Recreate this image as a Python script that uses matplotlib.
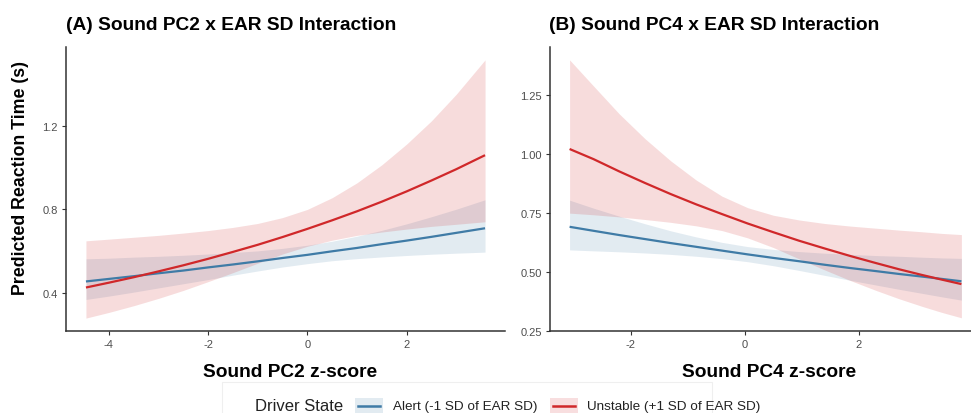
import numpy as np
import matplotlib
matplotlib.use("Agg")
import matplotlib.pyplot as plt
from matplotlib.patches import Rectangle
from matplotlib.lines import Line2D

plt.rcParams["font.family"] = ["Liberation Sans", "DejaVu Sans"]
plt.rcParams["axes.unicode_minus"] = False

# predicted RT (s) with 95% CI, Sound PC2 model
pc2_x = [-4.46, -4, -3.5, -3, -2.5, -2, -1.5, -1, -0.5, 0, 0.5, 1, 1.5, 2, 2.5, 3, 3.58]
pc2_alert = [0.456, 0.468, 0.481, 0.495, 0.508, 0.523, 0.537, 0.552, 0.568,
             0.583, 0.600, 0.616, 0.634, 0.651, 0.669, 0.688, 0.710]
pc2_alert_lo = [0.370, 0.386, 0.405, 0.425, 0.445, 0.465, 0.486, 0.506, 0.525,
                0.541, 0.555, 0.565, 0.573, 0.580, 0.586, 0.591, 0.596]
pc2_alert_hi = [0.564, 0.567, 0.572, 0.576, 0.581, 0.587, 0.594, 0.602, 0.614,
                0.629, 0.648, 0.672, 0.700, 0.731, 0.765, 0.801, 0.846]
pc2_unst = [0.427, 0.450, 0.476, 0.504, 0.533, 0.564, 0.597, 0.631, 0.668,
            0.707, 0.748, 0.791, 0.837, 0.886, 0.938, 0.992, 1.059]
pc2_unst_lo = [0.281, 0.308, 0.340, 0.375, 0.413, 0.455, 0.498, 0.543, 0.587,
               0.624, 0.653, 0.676, 0.692, 0.706, 0.719, 0.729, 0.741]
pc2_unst_hi = [0.650, 0.658, 0.667, 0.676, 0.687, 0.699, 0.714, 0.733, 0.761,
               0.800, 0.856, 0.927, 1.013, 1.112, 1.223, 1.350, 1.514]

# predicted RT (s) with 95% CI, Sound PC4 model
pc4_x = [-3.07, -2.65, -2.2, -1.75, -1.3, -0.85, -0.4, 0.05, 0.5, 0.95,
         1.4, 1.85, 2.3, 2.7, 3.1, 3.45, 3.795]
pc4_alert = [0.692, 0.675, 0.657, 0.640, 0.623, 0.607, 0.591, 0.575, 0.560,
             0.546, 0.531, 0.517, 0.504, 0.492, 0.481, 0.471, 0.461]
pc4_alert_lo = [0.594, 0.590, 0.586, 0.581, 0.575, 0.567, 0.557, 0.544, 0.527,
                0.507, 0.486, 0.465, 0.445, 0.427, 0.410, 0.395, 0.381]
pc4_alert_hi = [0.805, 0.771, 0.737, 0.705, 0.675, 0.649, 0.626, 0.608, 0.596,
                0.587, 0.580, 0.575, 0.570, 0.567, 0.563, 0.560, 0.558]
pc4_unst = [1.022, 0.979, 0.927, 0.878, 0.831, 0.787, 0.746, 0.706, 0.669,
            0.633, 0.600, 0.568, 0.538, 0.512, 0.488, 0.468, 0.449]
pc4_unst_lo = [0.750, 0.743, 0.734, 0.723, 0.711, 0.696, 0.676, 0.645, 0.604,
               0.556, 0.509, 0.464, 0.422, 0.387, 0.355, 0.329, 0.306]
pc4_unst_hi = [1.400, 1.289, 1.171, 1.066, 0.972, 0.890, 0.822, 0.773, 0.741,
               0.721, 0.706, 0.695, 0.686, 0.678, 0.671, 0.664, 0.659]

legend_title = "Driver State"
labels = ["Alert (-1 SD of EAR SD)", "Unstable (+1 SD of EAR SD)"]
blue, red = "#3F7BA6", "#D0282A"


def expand(lo, hi, frac=0.05):
    pad = (hi - lo) * frac
    return lo - pad, hi + pad


def draw_panel(ax, x, a, a_lo, a_hi, u, u_lo, u_hi, xticks, yticks, yfmt):
    ax.fill_between(x, a_lo, a_hi, color=blue, alpha=0.15, lw=0)
    ax.fill_between(x, u_lo, u_hi, color=red, alpha=0.16, lw=0)
    ax.plot(x, a, color=blue, lw=1.6, solid_capstyle="butt")
    ax.plot(x, u, color=red, lw=1.6, solid_capstyle="butt")
    ax.set_xlim(*expand(min(x), max(x)))
    ax.set_ylim(*expand(min(a_lo + u_lo), max(a_hi + u_hi)))
    ax.set_xticks(xticks)
    ax.set_yticks(yticks)
    ax.set_yticklabels([yfmt.format(v) for v in yticks])
    for s in ["top", "right"]:
        ax.spines[s].set_visible(False)
    for s in ["left", "bottom"]:
        ax.spines[s].set_color("#333333")
        ax.spines[s].set_linewidth(1.1)
    ax.tick_params(length=3, width=0.8, color="#333333",
                   labelsize=8, labelcolor="#4D4D4D", pad=3)


fig = plt.figure(figsize=(9.71, 4.14), dpi=100)
axA = fig.add_axes([66 / 971, 82 / 414, 439 / 971, 284 / 414])
axB = fig.add_axes([550 / 971, 82 / 414, 431 / 971, 284 / 414])

draw_panel(axA, pc2_x, pc2_alert, pc2_alert_lo, pc2_alert_hi,
           pc2_unst, pc2_unst_lo, pc2_unst_hi,
           [-4, -2, 0, 2], [0.4, 0.8, 1.2], "{:.1f}")
draw_panel(axB, pc4_x, pc4_alert, pc4_alert_lo, pc4_alert_hi,
           pc4_unst, pc4_unst_lo, pc4_unst_hi,
           [-2, 0, 2], [0.25, 0.5, 0.75, 1.0, 1.25], "{:.2f}")

# titles and axis labels
fig.text(66 / 971, 1 - 25 / 414, "(A) Sound PC2 x EAR SD Interaction",
         fontsize=13.8, fontweight="bold", va="center", ha="left")
fig.text(549 / 971, 1 - 25 / 414, "(B) Sound PC4 x EAR SD Interaction",
         fontsize=13.8, fontweight="bold", va="center", ha="left")
fig.text(21 / 971, 1 - 178 / 414, "Predicted Reaction Time (s)",
         fontsize=12.8, fontweight="bold", rotation=90, va="center", ha="center")
fig.text(290 / 971, 1 - 373 / 414, "Sound PC2 z-score",
         fontsize=13.8, fontweight="bold", va="center", ha="center")
fig.text(769 / 971, 1 - 373 / 414, "Sound PC4 z-score",
         fontsize=13.8, fontweight="bold", va="center", ha="center")

# legend strip along the bottom
W, H = 971, 414
fig.patches.append(Rectangle((222 / W, -0.05), (712 - 222) / W, (H - 383) / H + 0.05,
                             transform=fig.transFigure, fill=False,
                             edgecolor="#EFEFEF", lw=0.8))
ly = (H - 407) / H
fig.text(255 / W, ly, legend_title, fontsize=12, color="#222222", va="center")
keys = [(355, 393, blue), (550, 587, red)]
for (kx, tx, c), lab in zip(keys, labels):
    fig.patches.append(Rectangle((kx / W, (H - 414) / H), 28 / W, 15 / H,
                                 transform=fig.transFigure, facecolor=c,
                                 alpha=0.15, lw=0))
    fig.lines.append(Line2D([(kx + 3) / W, (kx + 25) / W], [ly, ly],
                            transform=fig.transFigure, color=c, lw=1.8))
    fig.text(tx / W, ly, lab, fontsize=9.7, color="#222222", va="center")

fig.savefig("out.png", dpi=100)
